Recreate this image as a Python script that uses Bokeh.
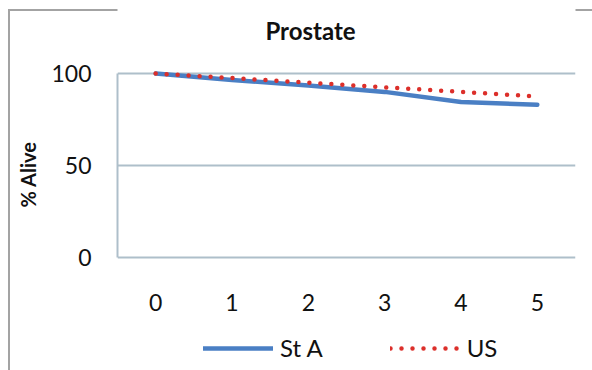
from bokeh.plotting import figure
from bokeh.models import Range1d, FixedTicker, Legend, LegendItem, Title, Label
from bokeh.embed import file_html
from bokeh.resources import INLINE

# Five-year survival, percent alive by year since diagnosis
years = [0, 1, 2, 3, 4, 5]
st_a = [100, 96.5, 93.5, 90, 84.5, 83]
us = [100, 97.5, 95, 92.5, 90, 87.5]
y_ticks = [0, 50, 100]
title_text = "Prostate"
y_label = "% Alive"
series_names = ["St A", "US"]

BLUE = "#4a7fc4"
RED = "#dc2f2a"
GRID = "#aebfca"
FONT = "Lato"

# The frame covers the full chart height so that the title and the legend can
# sit inside it; the value axis itself only covers 0-100.
p = figure(width=592, height=370, output_backend="svg", toolbar_location=None,
           x_range=Range1d(-0.5, 5.5), y_range=Range1d(-60.33, 139.67),
           min_border_left=117, min_border_right=17,
           min_border_top=0, min_border_bottom=2)
p.outline_line_color = None
p.background_fill_color = "white"
p.border_fill_color = None
# white page with a thin grey chart border along the top and left
p.styles = {
    "background-color": "white",
    "box-shadow": "inset 8px 9px 0 0 white, inset 10px 11px 0 0 #a3a3a3",
}

# chart title
p.add_layout(Label(x=193, y=338, x_units="screen", y_units="screen",
                   text=title_text, text_align="center", text_baseline="alphabetic",
                   text_font=FONT, text_font_style="bold", text_font_size="24px",
                   text_color="#111111"))

# horizontal gridlines only
p.xgrid.visible = False
p.ygrid.ticker = FixedTicker(ticks=[50, 100])
p.ygrid.grid_line_color = GRID
p.ygrid.grid_line_width = 2

# y axis
p.yaxis.ticker = FixedTicker(ticks=y_ticks)
p.yaxis.bounds = (0, 100)
p.yaxis.axis_line_color = GRID
p.yaxis.axis_line_width = 2
p.yaxis.major_tick_line_color = None
p.yaxis.minor_tick_line_color = None
p.yaxis.major_label_standoff = 20
p.yaxis.major_label_text_font = FONT
p.yaxis.major_label_text_font_size = "23px"
p.yaxis.major_label_text_color = "#111111"

# y axis title, placed along the 0-100 part of the axis
p.add_layout(Title(text=y_label, align="left", offset=161, standoff=18,
                   text_font=FONT, text_font_style="bold", text_font_size="20px",
                   text_color="#111111"), "left")

# x axis, drawn along the zero line
p.xaxis.fixed_location = 0
p.xaxis.ticker = FixedTicker(ticks=years)
p.xaxis.axis_line_color = GRID
p.xaxis.axis_line_width = 2
p.xaxis.major_tick_line_color = None
p.xaxis.minor_tick_line_color = None
p.xaxis.major_label_standoff = 31
p.xaxis.major_label_text_font = FONT
p.xaxis.major_label_text_font_size = "23px"
p.xaxis.major_label_text_color = "#111111"

# series
r_st = p.line(years, st_a, line_color=BLUE, line_width=4.5, line_cap="round",
              line_join="round")
r_us = p.line(years, us, line_color=RED, line_width=4.5, line_dash="0 11",
              line_cap="round")

legend = Legend(
    items=[LegendItem(label=series_names[0], renderers=[r_st]),
           LegendItem(label=series_names[1], renderers=[r_us])],
    orientation="horizontal", location=(86, 6),
    glyph_width=70, glyph_height=20, label_standoff=7, spacing=67,
    padding=0, margin=0, border_line_color=None, background_fill_alpha=0,
    label_text_font=FONT, label_text_font_size="24px", label_text_color="#111111",
)
p.add_layout(legend, "center")

open("out.html", "w").write(file_html(p, INLINE))
